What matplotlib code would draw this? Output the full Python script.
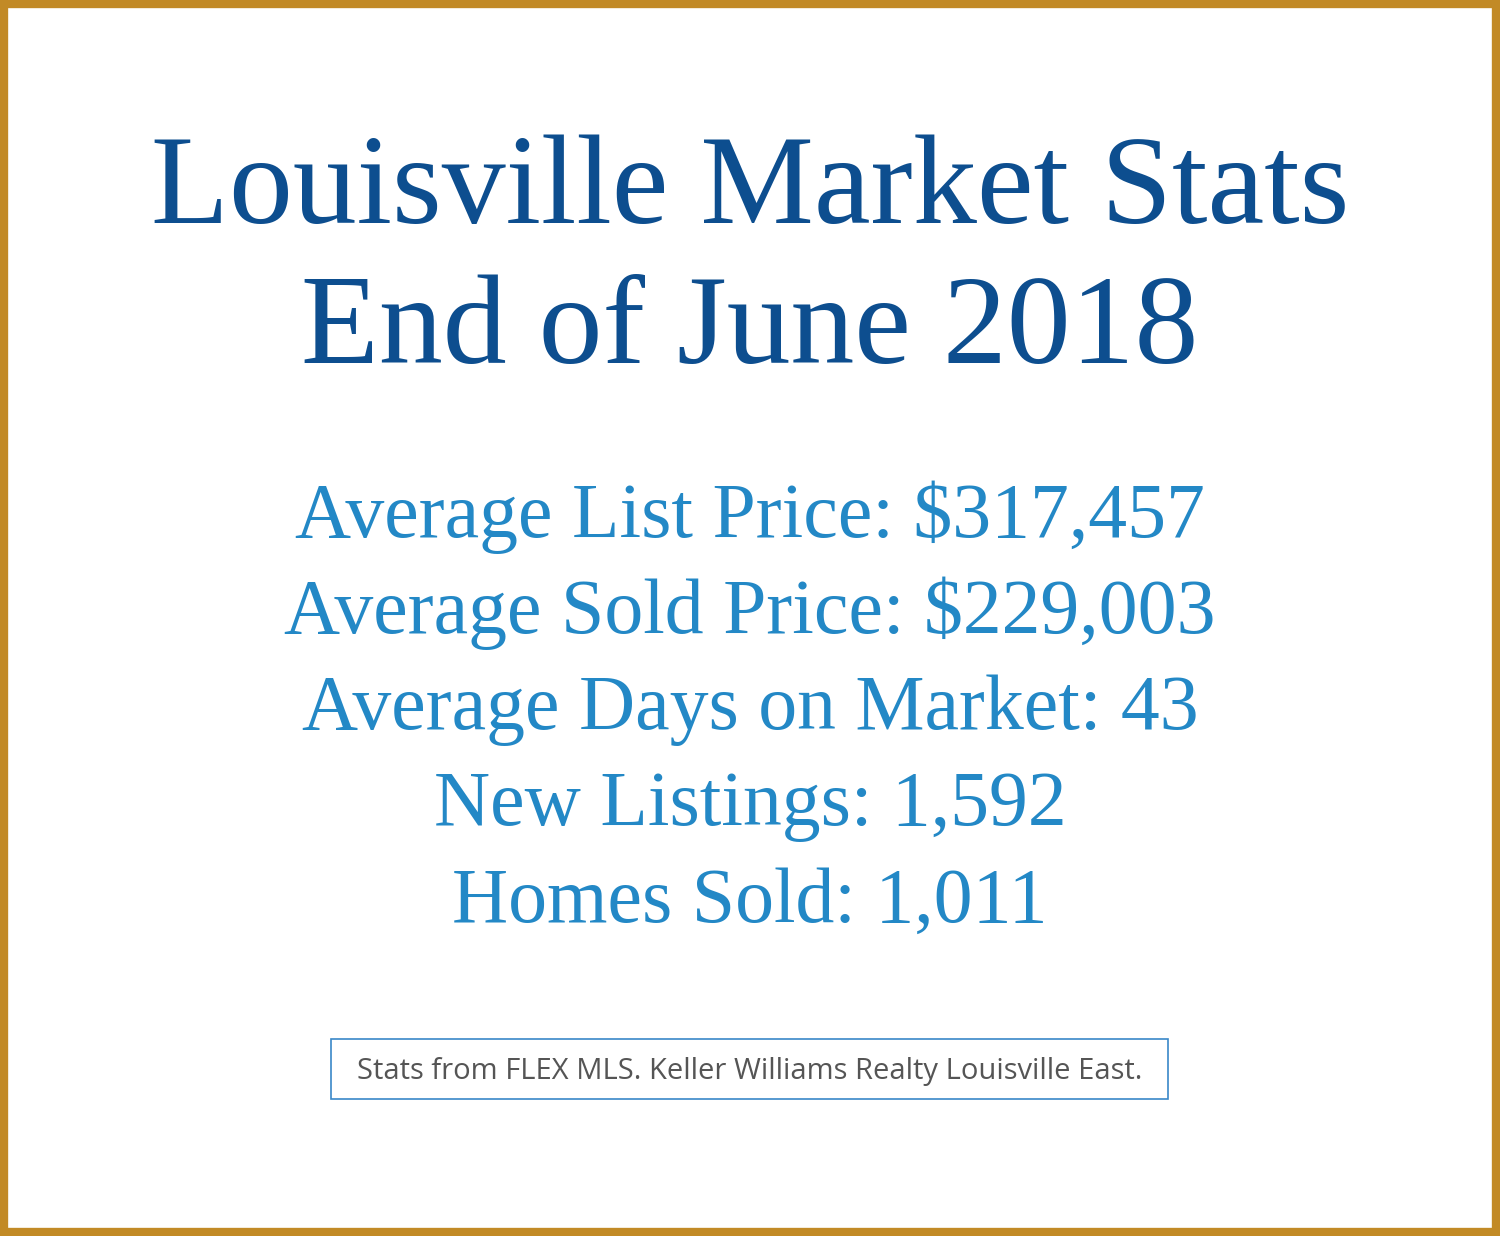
import matplotlib
matplotlib.use("Agg")
import matplotlib.pyplot as plt
from matplotlib.patches import Rectangle

title_lines = ["Louisville Market Stats", "End of June 2018"]
stat_labels = ["Average List Price", "Average Sold Price", "Average Days on Market", "New Listings", "Homes Sold"]
stat_values = ["$317,457", "$229,003", "43", "1,592", "1,011"]
footer = "Stats from FLEX MLS. Keller Williams Realty Louisville East."

W, H = 1500, 1236
fig = plt.figure(figsize=(15, 12.36), dpi=100)
ax = fig.add_axes([0, 0, 1, 1])
ax.set_xlim(0, W); ax.set_ylim(H, 0); ax.axis("off")

ax.add_patch(Rectangle((4, 4), W - 8, H - 8, fill=False, ec="#C28A26", lw=6))

for y, t in zip([192, 332], title_lines):
    ax.text(W / 2, y, t, ha="center", va="center", fontsize=92,
            family="Liberation Serif", color="#0D4E8F")

for i, (l, v) in enumerate(zip(stat_labels, stat_values)):
    ax.text(W / 2, 517 + i * 96.5, f"{l}: {v}", ha="center", va="center",
            fontsize=56, family="Liberation Serif", color="#2388C6")

ax.add_patch(Rectangle((331, 1039), 837, 60, fill=False, ec="#3A88C8", lw=1.2))
ax.text(W / 2, 1072, footer, ha="center", va="center", fontsize=21,
        family="Open Sans", color="#555555")

fig.savefig("out.png", dpi=100, facecolor="white")
